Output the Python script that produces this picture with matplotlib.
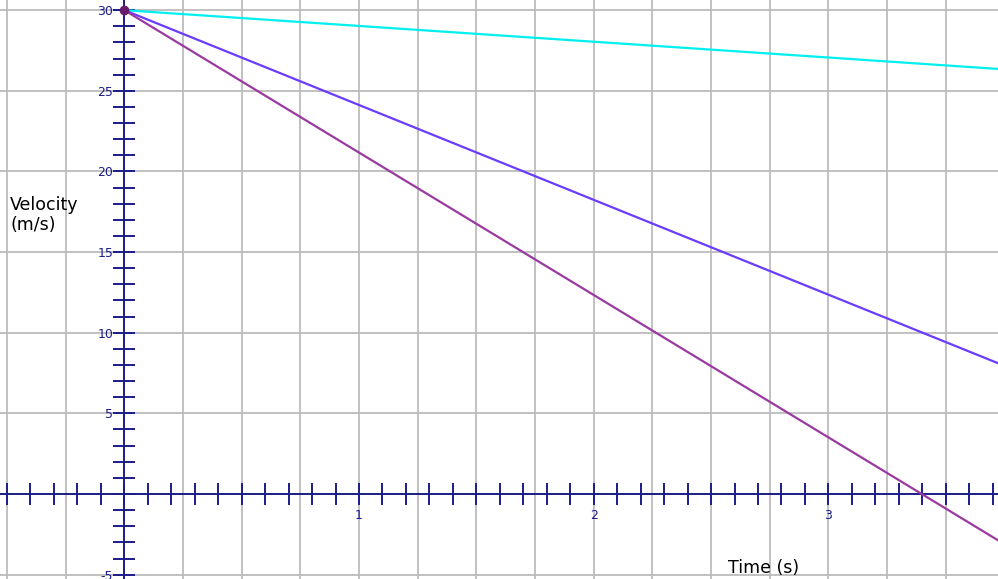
import matplotlib
matplotlib.use("Agg")
import matplotlib.pyplot as plt
import numpy as np
from matplotlib.ticker import MultipleLocator, FixedLocator, FixedFormatter

# Data
time_points = [0.0, 3.75]
v_cyan = [30.0, 26.33]
v_blue = [30.0, 7.95]
v_purple = [30.0, -3.11]
x_label_ticks = [1, 2, 3]
y_label_ticks = [-5, 5, 10, 15, 20, 25, 30]

navy = "#1c1c8c"
grid_c = "#bcbcbc"

fig = plt.figure(figsize=(9.98, 5.79), dpi=100)
ax = fig.add_axes([0, 0, 1, 1])
ax.set_xlim(-0.5296, 3.7226)
ax.set_ylim(-5.27, 30.63)

# grid
for gx in np.arange(-0.5, 3.8, 0.25):
    if abs(gx) > 1e-9:
        ax.axvline(gx, color=grid_c, lw=1.3, zorder=0)
for gy in np.arange(-5, 31, 5):
    if abs(gy) > 1e-9:
        ax.axhline(gy, color=grid_c, lw=1.3, zorder=0)

# spines at origin
for s in ["top", "right"]:
    ax.spines[s].set_visible(False)
ax.spines["left"].set_position(("data", 0))
ax.spines["bottom"].set_position(("data", 0))
for s in ["left", "bottom"]:
    ax.spines[s].set_color(navy)
    ax.spines[s].set_linewidth(1.4)
    ax.spines[s].set_zorder(3)

ax.xaxis.set_major_locator(FixedLocator(x_label_ticks))
ax.xaxis.set_major_formatter(FixedFormatter([str(v) for v in x_label_ticks]))
ax.xaxis.set_minor_locator(MultipleLocator(0.1))
ax.yaxis.set_major_locator(FixedLocator(y_label_ticks))
ax.yaxis.set_major_formatter(FixedFormatter([str(v) for v in y_label_ticks]))
ax.yaxis.set_minor_locator(MultipleLocator(1))
for axis in ["x", "y"]:
    ax.tick_params(axis=axis, which="both", direction="inout", length=16,
                   width=1.4, color=navy, labelcolor=navy, labelsize=9)
ax.tick_params(axis="x", which="major", pad=3)
ax.tick_params(axis="y", which="major", pad=0)

# lines
ax.plot(time_points, v_cyan, color="#00f0f0", lw=1.6, zorder=4)
ax.plot(time_points, v_blue, color="#6a3cff", lw=1.6, zorder=4)
ax.plot(time_points, v_purple, color="#9a3aa0", lw=1.6, zorder=4)
ax.plot([0], [30], "o", color="#6a1a6a", ms=6, zorder=5, clip_on=False)

fig.text(10 / 998, 1 - 230 / 579, "Velocity\n(m/s)", fontsize=12.5,
         color="black", ha="left", va="baseline", linespacing=1.15)
fig.text(728 / 998, 1 - 573 / 579, "Time (s)", fontsize=12.5,
         color="black", ha="left", va="baseline")

fig.savefig("out.png", dpi=100)
